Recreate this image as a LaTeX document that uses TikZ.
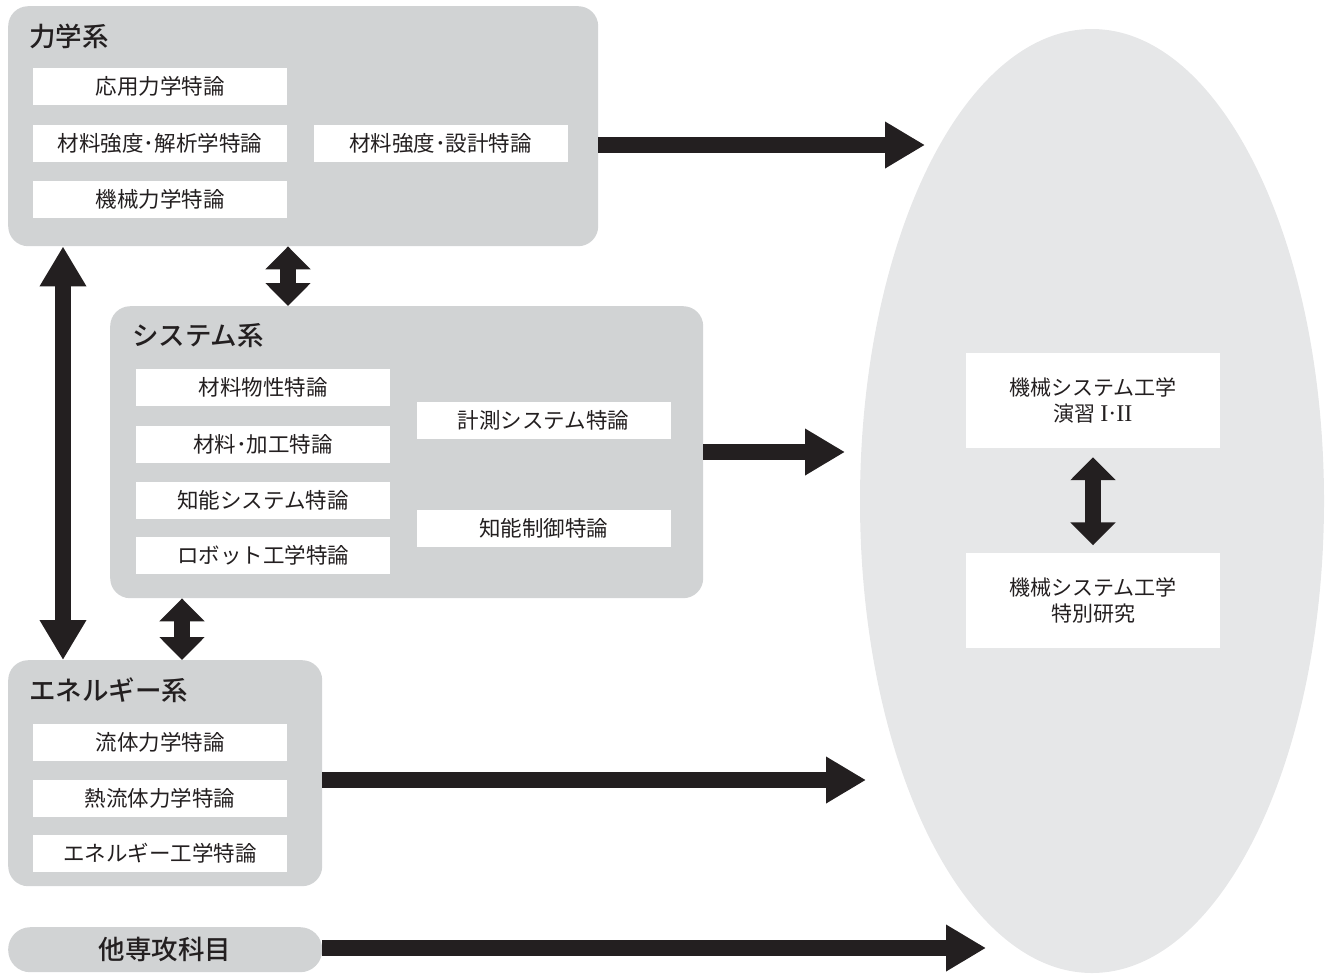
\documentclass[tikz,border=0pt]{standalone}
\usepackage{fontspec}
\setmainfont{Noto Sans CJK JP}
\newfontfamily\titlefont{Noto Sans CJK JP Medium}
\newfontfamily\romanfont{Liberation Serif}
\usetikzlibrary{arrows.meta,shapes.geometric}

\definecolor{boxgray}{HTML}{D1D3D4}
\definecolor{goalgray}{HTML}{E6E7E8}
\definecolor{inkblack}{HTML}{231F20}

\tikzset{
  group/.style={fill=boxgray, rounded corners=20pt, inner sep=0pt, anchor=north west},
  course/.style={fill=white, minimum width=254pt, minimum height=37pt, inner sep=0pt,
    text=inkblack, font=\fontsize{21.5}{25}\selectfont},
  final/.style={fill=white, minimum width=254pt, minimum height=95pt, inner sep=0pt,
    text=inkblack, align=center, font=\fontsize{21}{26}\selectfont},
  grouptitle/.style={anchor=west, inner sep=0pt, text=inkblack, font=\titlefont\fontsize{26.5}{30}\selectfont},
  fat/.style={draw=inkblack, line width=15.5pt},
  longtip/.tip={Triangle[length=40pt,width=44pt]},
  shorttip/.tip={Triangle[length=23pt,width=44pt]}
}

\begin{document}
\begin{tikzpicture}[x=1pt,y=-1pt]
  \useasboundingbox (0,0) rectangle (1332,975);

  % goal ellipse
  \node[ellipse, fill=goalgray, minimum width=464pt, minimum height=944pt, inner sep=0pt] (goal) at (1092,501) {};

  % groups
  \node[group, minimum width=590pt, minimum height=240pt] (mech) at (8,6) {};
  \node[group, minimum width=593pt, minimum height=292pt] (sys)  at (110,306) {};
  \node[group, minimum width=314pt, minimum height=226pt] (ene)  at (8,660) {};
  \node[group, minimum width=314pt, minimum height=45pt, rounded corners=22pt] (other) at (8,927) {};

  % titles
  \node[grouptitle] (mechT) at (29,36)  {力学系};
  \node[grouptitle] (sysT)  at (132,336) {システム系};
  \node[grouptitle] (eneT)  at (29,690) {エネルギー系};
  \node[grouptitle, anchor=center] (otherT) at (other.center) {他専攻科目};

  % mechanics courses
  \node[course] (m1) at (160,86.5)   {応用力学特論};
  \node[course] (m2) at (160,143.5)  {材料強度･解析学特論};
  \node[course] (m3) at (160,199.5)  {機械力学特論};
  \node[course] (m4) at (440.5,143.5) {材料強度･設計特論};

  % system courses
  \node[course] (s1) at (263,387)    {材料物性特論};
  \node[course] (s2) at (263,444)    {材料･加工特論};
  \node[course] (s3) at (263,500.5)  {知能システム特論};
  \node[course] (s4) at (263,555.5)  {ロボット工学特論};
  \node[course] (s5) at (543.5,420)  {計測システム特論};
  \node[course] (s6) at (543.5,528.5) {知能制御特論};

  % energy courses
  \node[course] (e1) at (160,742) {流体力学特論};
  \node[course] (e2) at (160,798) {熱流体力学特論};
  \node[course] (e3) at (160,853) {エネルギー工学特論};

  % final courses
  \node[final] (ex)  at (1093,400.5) {機械システム工学\\演習 {\romanfont\fontsize{24}{26}\selectfont I·II}};
  \node[final] (res) at (1093,600)   {機械システム工学\\特別研究};

  % arrow ends
  \coordinate (mechEnd)  at (925,145);
  \coordinate (sysEnd)   at (845,452);
  \coordinate (eneEnd)   at (866,780);
  \coordinate (otherEnd) at (986,948);
  \coordinate (leftX)  at (63,0);
  \coordinate (midX)   at (288,0);
  \coordinate (lowX)   at (182,0);

  % arrows to goal
  \draw[fat, -{longtip}] (mech.east |- mechEnd) -- (mechEnd);
  \draw[fat, -{longtip}] (sys.east |- sysEnd) -- (sysEnd);
  \draw[fat, -{longtip}] (ene.east |- eneEnd) -- (eneEnd);
  \draw[fat, -{longtip}] (other.east |- otherEnd) -- (otherEnd);

  % links between groups
  \draw[fat, {longtip}-{longtip}] (mech.south -| leftX) -- (ene.north -| leftX);
  \draw[fat, {shorttip}-{shorttip}] (mech.south -| midX) -- (sys.north -| midX);
  \draw[fat, {shorttip}-{shorttip}] (sys.south -| lowX) -- (ene.north -| lowX);
  \draw[fat, {shorttip}-{shorttip}, shorten <=9pt, shorten >=7pt] (ex.south) -- (res.north);

\end{tikzpicture}
\end{document}
